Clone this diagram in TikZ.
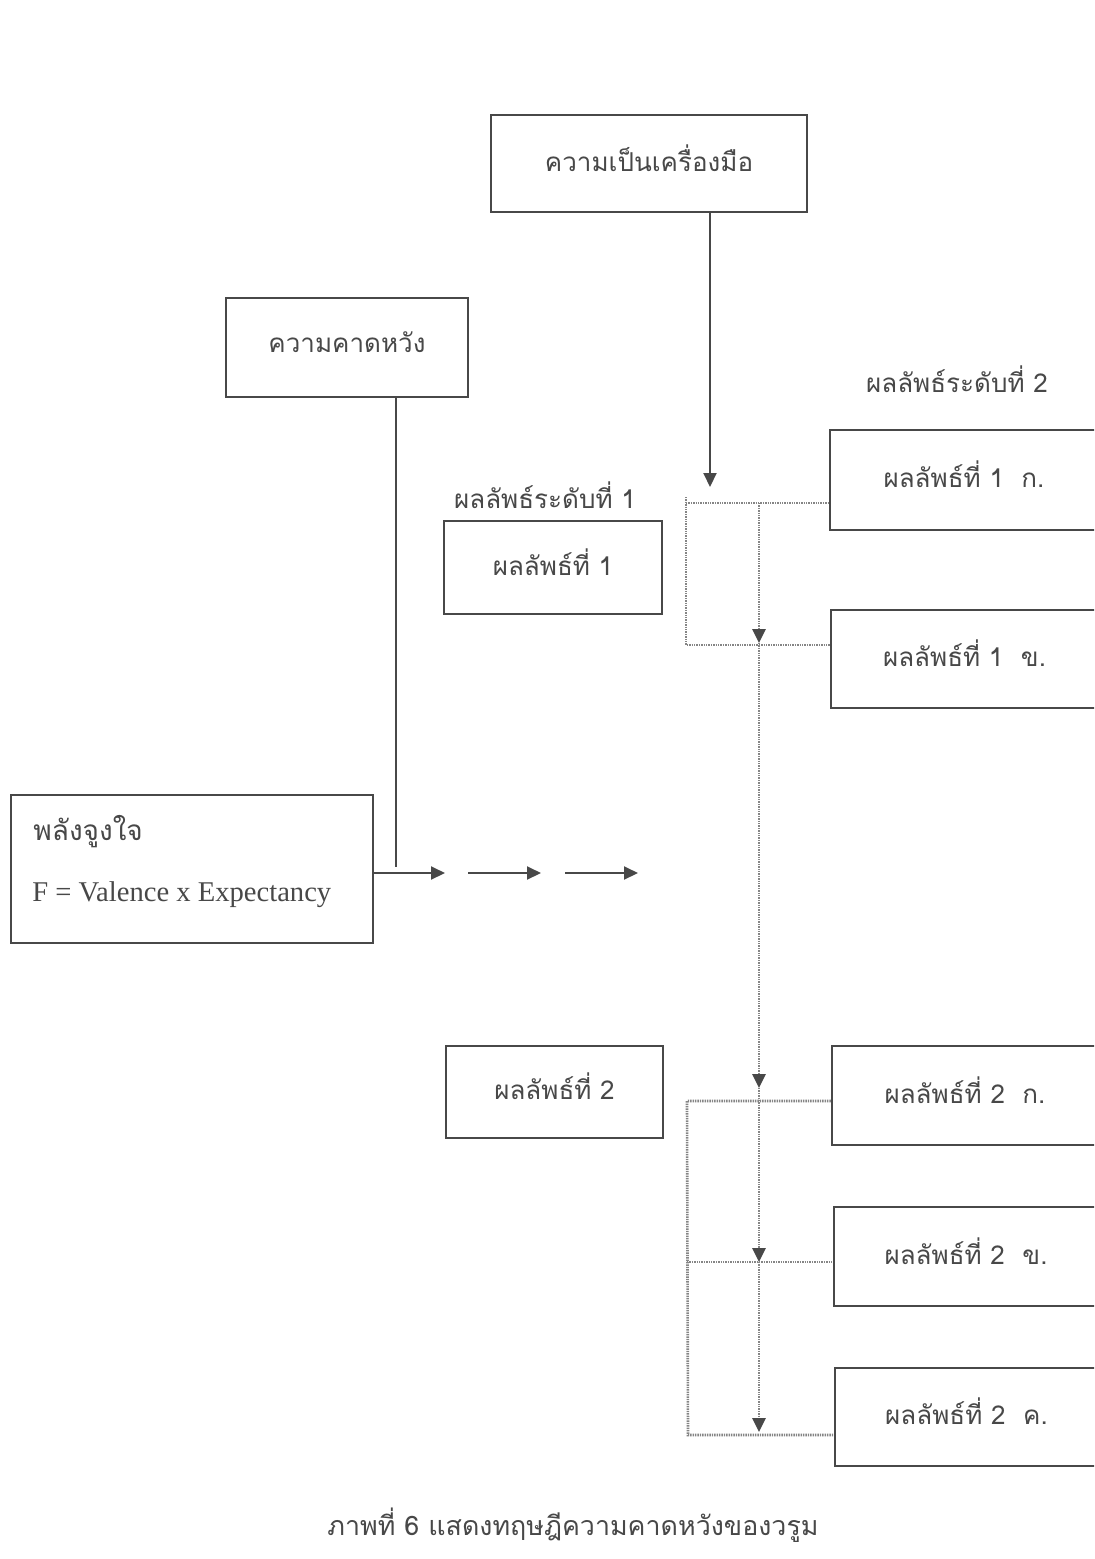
\documentclass[tikz,border=0pt]{standalone}
\usepackage{fontspec}
\setmainfont{Liberation Serif}
\newfontfamily\thaifont[Script=Thai]{Loma}
\usetikzlibrary{arrows.meta}
\definecolor{ink}{HTML}{484848}
\definecolor{dotc}{HTML}{858585}
\newcommand{\up}[1]{\raisebox{5.5pt}{#1}}
\tikzset{
  x=0.5pt, y=-0.5pt,
  box/.style={draw=ink, line width=1.2pt, rectangle, inner sep=0pt, text=ink,
    font=\thaifont\fontsize{13}{15}\selectfont},
  lbl/.style={text=ink, inner sep=0pt, font=\thaifont\fontsize{13}{15}\selectfont},
  solidln/.style={draw=ink, line width=1pt},
  arr/.style={solidln, -{Triangle[length=7pt,width=6.5pt]}},
  dotln/.style={draw=dotc, line width=1.3pt, dash pattern=on 0.7pt off 0.5pt},
  dotarr/.style={dotln, -{Triangle[length=7pt,width=6.5pt,color=ink,fill=ink]}}
}
\begin{document}
\begin{tikzpicture}
\useasboundingbox (0,0) rectangle (1094,1559);
\fill[white] (0,0) rectangle (1094,1559);
\clip (0,0) rectangle (1094,1559);

% boxes
\node[box, minimum width=158pt, minimum height=48.5pt] (instr) at (649,163.5) {\up{ความเป็นเครื่องมือ}};
\node[box, minimum width=121pt, minimum height=49.5pt] (expect) at (347,347.5) {\up{ความคาดหวัง}};
\node[box, minimum width=134pt, minimum height=50pt] (r1a) at (964,480) {\up{ผลลัพธ์ที่ 1\ \ ก.}};
\node[box, minimum width=109pt, minimum height=46.5pt] (r1) at (553,567.5) {\up{ผลลัพธ์ที่ 1}};
\node[box, minimum width=133.5pt, minimum height=49pt] (r1b) at (964.5,659) {\up{ผลลัพธ์ที่ 1\ \ ข.}};
\node[box, minimum width=181pt, minimum height=74pt] (motiv) at (192,869) {};
\node[box, minimum width=108.5pt, minimum height=46pt] (r2) at (554.5,1092) {\up{ผลลัพธ์ที่ 2}};
\node[box, minimum width=133pt, minimum height=49.5pt] (r2a) at (965,1095.5) {\up{ผลลัพธ์ที่ 2\ \ ก.}};
\node[box, minimum width=132pt, minimum height=49.5pt] (r2b) at (966,1256.5) {\up{ผลลัพธ์ที่ 2\ \ ข.}};
\node[box, minimum width=131.5pt, minimum height=49pt] (r2c) at (966.5,1417) {\up{ผลลัพธ์ที่ 2\ \ ค.}};

% texts
\node[lbl, anchor=west, font=\thaifont\fontsize{14}{16}\selectfont] (mt1) at (33,832) {พลังจูงใจ};
\node[lbl, anchor=west, font=\fontsize{14.3}{16}\selectfont] (mt2) at (32,895) {F = Valence x Expectancy};
\node[lbl] (lv1) at (545,495) {ผลลัพธ์ระดับที่ 1};
\node[lbl] (lv2) at (957,379) {ผลลัพธ์ระดับที่ 2};
\node[lbl, font=\thaifont\fontsize{13.4}{16}\selectfont] (cap) at (573,1525) {ภาพที่ 6 แสดงทฤษฎีความคาดหวังของวรูม};

% coordinates
\coordinate (t1) at (710,487);
\coordinate (e1) at (396,867);
\coordinate (h0) at (373,873);
\coordinate (h1) at (445,873);
\coordinate (h2) at (468,873);
\coordinate (h3) at (541,873);
\coordinate (h4) at (565,873);
\coordinate (h5) at (638,873);
\coordinate (c0) at (686,497);
\coordinate (c1) at (686,503);
\coordinate (c2) at (686,645);
\coordinate (m0) at (759,503);
\coordinate (m1) at (759,643);
\coordinate (m2) at (759,1088);
\coordinate (m3) at (759,1262);
\coordinate (m4) at (759,1432);
\coordinate (d1) at (687,1101);
\coordinate (d2) at (687,1262);
\coordinate (d3) at (688,1435);

% solid connectors
\draw[arr] ([xshift=30.5pt]instr.south) -- (t1);
\draw[solidln] ([xshift=24.5pt]expect.south) -- (e1);
\draw[arr] (h0) -- (h1);
\draw[arr] (h2) -- (h3);
\draw[arr] (h4) -- (h5);

% dotted structure, upper
\draw[dotln] (c0) -- (c2) -- (r1b.west |- c2);
\draw[dotln] (c1) -- (r1a.west |- c1);
\draw[dotarr] (m0) -- (m1);
\draw[dotarr] (m1) -- (m2);
\draw[dotarr] (m2) -- (m3);
\draw[dotarr] (m3) -- (m4);

% dotted structure, lower
\draw[dotln] (r2a.west |- d1) -- (d1) -- (d3) -- (r2c.west |- d3);
\draw[dotln] (d2) -- (r2b.west |- d2);
\end{tikzpicture}
\end{document}
